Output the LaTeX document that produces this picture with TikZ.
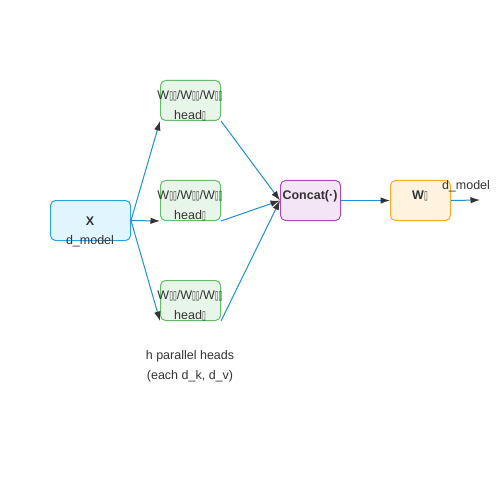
\documentclass[tikz,border=0pt]{standalone}
\usepackage{fontspec}
\usepackage{graphicx}
\setmainfont{Liberation Sans}
\newfontfamily\djv{DejaVu Sans}
\usetikzlibrary{arrows.meta}
\definecolor{txt}{HTML}{333333}
\definecolor{xfill}{HTML}{E1F5FE}\definecolor{xdraw}{HTML}{29A3E0}
\definecolor{gfill}{HTML}{E8F5E9}\definecolor{gdraw}{HTML}{66BB6A}
\definecolor{pfill}{HTML}{F3E5F5}\definecolor{pdraw}{HTML}{AB47BC}
\definecolor{ofill}{HTML}{FFF3E0}\definecolor{odraw}{HTML}{FFA726}
\definecolor{edge}{HTML}{1E8FD8}
\newcommand{\tofu}{{\djv\scalebox{0.55}[0.95]{▯}}}
\begin{document}
\begin{tikzpicture}[x=1bp,y=-1bp,
  every node/.style={font=\fontsize{12.5bp}{14bp}\selectfont, text=txt, inner sep=0pt},
  boxst/.style={draw, rounded corners=5bp, line width=1bp, minimum height=40bp, anchor=north west},
  xbox/.style={boxst, fill=xfill, draw=xdraw, minimum width=80bp},
  hbox/.style={boxst, fill=gfill, draw=gdraw, minimum width=60bp},
  pbox/.style={boxst, fill=pfill, draw=pdraw, minimum width=60bp},
  obox/.style={boxst, fill=ofill, draw=odraw, minimum width=60bp},
  conn/.style={draw=edge, line width=1bp, -{Latex[length=9.5bp,width=6.5bp,color=txt]}},
  bold/.style={font=\bfseries\fontsize{12.5bp}{14bp}\selectfont}]
\useasboundingbox (0,0) rectangle (500,500);
\fill[white] (0,0) rectangle (500,500);
% boxes
\node[xbox] (x) at (50,200) {};
\node[hbox] (h1) at (160,80) {};
\node[hbox] (h2) at (160,180) {};
\node[hbox] (h3) at (160,280) {};
\node[pbox] (cc) at (280,180) {};
\node[obox] (wo) at (390,180) {};
\coordinate (out) at (480,200);
% texts
\node[bold] (xt) at (90,221) {X};
\node (xd) at (90,241) {d\_model};
\foreach \n/\y in {h1/80,h2/180,h3/280}{
  \node (\n a) at (190,\y+16) {W\tofu\tofu/W\tofu\tofu/W\tofu\tofu};
  \node (\n b) at (190,\y+36) {head\tofu};
}
\node[bold] (cct) at (310,196) {Concat(·)};
\node[bold] (wot) at (420,196) {W\tofu};
\node (dm) at (466,186) {d\_model};
\node (n1) at (190,356) {h parallel heads};
\node (n2) at (190,376) {(each d\_k, d\_v)};
% connectors
\draw[conn] (x.east) -- (h1.south west);
\draw[conn] (x.east) -- (h2.south west);
\draw[conn] (x.east) -- (h3.south west);
\draw[conn] (h1.south east) -- (cc.west);
\draw[conn] (h2.south east) -- (cc.west);
\draw[conn] (h3.south east) -- (cc.west);
\draw[conn] (cc.east) -- (wo.west);
\draw[conn] (wo.east) -- (out);
\end{tikzpicture}
\end{document}
